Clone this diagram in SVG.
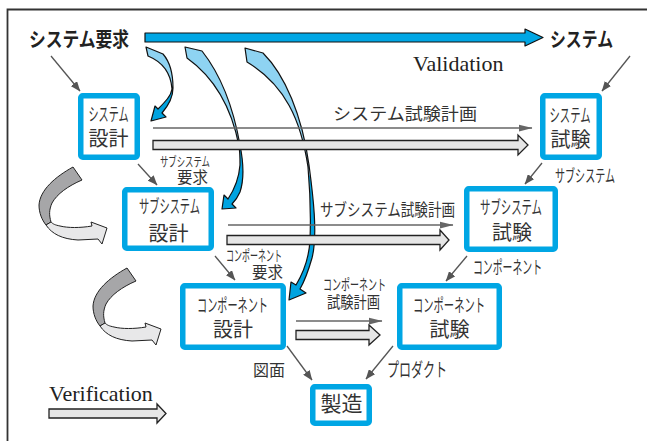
<svg xmlns="http://www.w3.org/2000/svg" width="647" height="441" viewBox="0 0 647 441">
<defs>
<style>
.box{fill:#fff;stroke:#00a6e4;stroke-width:5.5}
.jp{font-family:"Noto Sans CJK JP","Noto Sans",sans-serif;fill:#333;text-anchor:middle}
.b{font-weight:bold;fill:#222;text-anchor:start}
.en{font-family:"Liberation Serif","Times New Roman",serif;fill:#222;font-size:22px}
.ln{stroke:#555;stroke-width:1.3;fill:none}
.hl{stroke:#666;stroke-width:1.5;fill:none}
.thick{fill:#e6e6e6;stroke:#222;stroke-width:1.3}
.blue{stroke:#111;stroke-width:1.2;stroke-linejoin:round}
.dk{fill:#a6a6a8;stroke:#222;stroke-width:1}
.lt{fill:#e8e8e9;stroke:#222;stroke-width:1}
</style>
<marker id="ah" viewBox="0 0 10 8" refX="9.5" refY="4" markerWidth="10" markerHeight="8" markerUnits="userSpaceOnUse" orient="auto"><path d="M0,0 L10,4 L0,8 Z" fill="#555"/></marker>
<marker id="ah2" viewBox="0 0 14 8" refX="13.5" refY="4" markerWidth="14" markerHeight="8" markerUnits="userSpaceOnUse" orient="auto"><path d="M0,0.5 L14,4 L0,7.5 Z" fill="#666"/></marker>
<linearGradient id="g1" gradientUnits="userSpaceOnUse" x1="0" y1="47" x2="0" y2="122"><stop offset="0.55" stop-color="#8ed3f2"/><stop offset="0.56" stop-color="#00a3e0"/></linearGradient>
<linearGradient id="g2" gradientUnits="userSpaceOnUse" x1="0" y1="47" x2="0" y2="210"><stop offset="0.6" stop-color="#8ed3f2"/><stop offset="0.61" stop-color="#00a3e0"/></linearGradient>
<linearGradient id="g3" gradientUnits="userSpaceOnUse" x1="0" y1="47" x2="0" y2="302"><stop offset="0.5" stop-color="#8ed3f2"/><stop offset="0.51" stop-color="#00a3e0"/></linearGradient>
<g id="curl">
<path class="dk" d="M73,167 C55,177 40,190 39,205 C39,213 42,220 46,225 L51,222 C49,215 49,210 52,203 C57,194 68,186 82,180 Z"/>
<path class="lt" d="M46,225 C52,234 62,239 78,240 L98,239 L102,244 L107,228 L91,222 L92,226 C80,228 68,228 60,226 C55,225 53,224 51,222 Z"/>
</g>
</defs>
<rect width="647" height="441" fill="#fff"/>
<path d="M7.5,441 V9.5 H647" fill="none" stroke="#333" stroke-width="1.8"/>

<g id="labels">
<text class="jp b" x="29" y="47" font-size="20" textLength="100" lengthAdjust="spacingAndGlyphs">システム要求</text>
<text class="jp b" x="550" y="47" font-size="20" textLength="63" lengthAdjust="spacingAndGlyphs">システム</text>
<text class="en" x="413" y="71" font-family="'Liberation Serif','Times New Roman',serif">Validation</text>
<text class="en" x="49" y="401" font-family="'Liberation Serif','Times New Roman',serif">Verification</text>
<text class="jp" x="405" y="120" font-size="17" textLength="144" lengthAdjust="spacingAndGlyphs">システム試験計画</text>
<text class="jp" x="387.5" y="216" font-size="17" textLength="135" lengthAdjust="spacingAndGlyphs">サブシステム試験計画</text>
<text class="jp" x="185" y="165.5" font-size="13" textLength="50" lengthAdjust="spacingAndGlyphs">サブシステム</text>
<text class="jp" x="192.5" y="183" font-size="15.5" textLength="31" lengthAdjust="spacingAndGlyphs">要求</text>
<text class="jp" x="585" y="181.5" font-size="17" textLength="60" lengthAdjust="spacingAndGlyphs">サブシステム</text>
<text class="jp" x="254" y="261" font-size="15" textLength="56" lengthAdjust="spacingAndGlyphs">コンポーネント</text>
<text class="jp" x="267.5" y="278" font-size="15.5" textLength="31" lengthAdjust="spacingAndGlyphs">要求</text>
<text class="jp" x="507.5" y="273.5" font-size="18" textLength="69" lengthAdjust="spacingAndGlyphs">コンポーネント</text>
<text class="jp" x="354.5" y="290" font-size="15" textLength="63" lengthAdjust="spacingAndGlyphs">コンポーネント</text>
<text class="jp" x="353.5" y="308" font-size="16" textLength="53" lengthAdjust="spacingAndGlyphs">試験計画</text>
<text class="jp" x="269" y="376" font-size="16" textLength="32" lengthAdjust="spacingAndGlyphs">図面</text>
<text class="jp" x="417" y="376.5" font-size="19" textLength="60" lengthAdjust="spacingAndGlyphs">プロダクト</text>
</g>

<g id="sys-design">
<rect class="box" x="80.75" y="95.75" width="56.5" height="61.5" rx="2"/>
<text class="jp" x="108.5" y="120.5" font-size="18" textLength="40" lengthAdjust="spacingAndGlyphs">システム</text>
<text class="jp" x="108.5" y="146" font-size="20">設計</text>
</g>
<g id="sys-test">
<rect class="box" x="542.75" y="95.75" width="56.5" height="61.5" rx="2"/>
<text class="jp" x="570" y="121.5" font-size="18" textLength="41" lengthAdjust="spacingAndGlyphs">システム</text>
<text class="jp" x="570.5" y="147" font-size="20">試験</text>
</g>
<g id="sub-design">
<rect class="box" x="124.75" y="189.75" width="86.5" height="58.5" rx="2"/>
<text class="jp" x="169.5" y="212.5" font-size="18" textLength="61" lengthAdjust="spacingAndGlyphs">サブシステム</text>
<text class="jp" x="168.5" y="241" font-size="20">設計</text>
</g>
<g id="sub-test">
<rect class="box" x="466.75" y="188.75" width="88.5" height="60.5" rx="2"/>
<text class="jp" x="511" y="213.5" font-size="18" textLength="62" lengthAdjust="spacingAndGlyphs">サブシステム</text>
<text class="jp" x="512" y="240" font-size="20">試験</text>
</g>
<g id="comp-design">
<rect class="box" x="182.75" y="285.75" width="100.5" height="61.5" rx="2"/>
<text class="jp" x="232.5" y="311.5" font-size="18" textLength="71" lengthAdjust="spacingAndGlyphs">コンポーネント</text>
<text class="jp" x="233" y="337" font-size="20">設計</text>
</g>
<g id="comp-test">
<rect class="box" x="399.75" y="285.75" width="99.5" height="61.5" rx="2"/>
<text class="jp" x="449" y="311.5" font-size="18" textLength="72" lengthAdjust="spacingAndGlyphs">コンポーネント</text>
<text class="jp" x="449.5" y="337" font-size="20">試験</text>
</g>
<g id="manufacture">
<rect class="box" x="312.75" y="386.75" width="56.5" height="36.5" rx="2"/>
<text class="jp" x="341.5" y="411" font-size="21">製造</text>
</g>

<g id="connectors">
<path class="blue" fill="#00a6e4" d="M145,33 H525 V29 L543,37.5 L525,46 V42 H145 Z"/>
<path class="blue" fill="url(#g1)" d="M146,47 L163,54 C170,62 173,72 173,88 C173,98 168,106 162,113 L166,117 L151,121 L155,106 L158,109 C165,102 171,96 172,89 C171,75 165,63 148,56 Z"/>
<path class="blue" fill="url(#g2)" d="M185,47 L202,51 C217,70 232,100 240,145 C244,165 244,180 240,192 C237,199 234,202 232,204 L236,208 L222,209 L224,195 L228,199 C234,190 239,178 240,165 C240,158 240,152 239,146 C232,110 215,78 187,58 Z"/>
<path class="blue" fill="url(#g3)" d="M245,48 L263,53 C285,75 302,115 309,165 C313,195 318,235 312,258 C308,272 304,282 300,289 L306,293 L289,300 L291,282 L296,285 C302,275 309,260 310,240 C311,215 310,190 308,167 C301,120 285,85 247,62 Z"/>

<use href="#curl"/>
<use href="#curl" transform="translate(54,101)"/>

<line class="ln" x1="51" y1="56" x2="80" y2="91" marker-end="url(#ah)"/>
<line class="ln" x1="630" y1="56" x2="602" y2="91" marker-end="url(#ah)"/>
<line class="ln" x1="138" y1="164" x2="157" y2="185" marker-end="url(#ah)"/>
<line class="ln" x1="542" y1="163" x2="525" y2="184" marker-end="url(#ah)"/>
<line class="ln" x1="215" y1="256" x2="235" y2="280" marker-end="url(#ah)"/>
<line class="ln" x1="467" y1="256" x2="446" y2="281" marker-end="url(#ah)"/>
<line class="ln" x1="287" y1="346" x2="312" y2="380" marker-end="url(#ah)"/>
<line class="ln" x1="393" y1="346" x2="366" y2="379" marker-end="url(#ah)"/>

<line class="hl" x1="153" y1="128" x2="532" y2="128" marker-end="url(#ah2)"/>
<line class="hl" x1="228" y1="225" x2="453" y2="225" marker-end="url(#ah2)"/>
<line class="hl" x1="296" y1="321" x2="382" y2="321" marker-end="url(#ah2)"/>

<path class="thick" d="M153,140.5 H518 V135 L528,145 L518,155 V149.5 H153 Z"/>
<path class="thick" d="M227,235.5 H440 V230 L449,240 L440,250 V244.5 H227 Z"/>
<path class="thick" d="M296,330.5 H369 V325 L380,335 L369,345 V339.5 H296 Z"/>
<path class="thick" d="M49,409 H157 V404 L166,413.5 L157,423 V418 H49 Z"/>
</g>
</svg>
